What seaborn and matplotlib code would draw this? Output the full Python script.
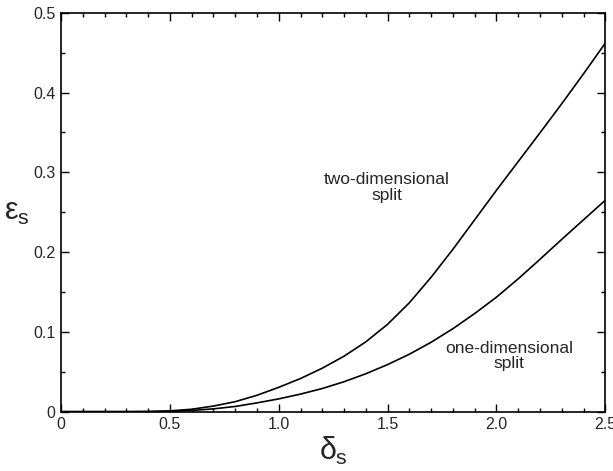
import matplotlib
matplotlib.use("Agg")
import matplotlib.pyplot as plt
import numpy as np
import pandas as pd
import seaborn as sns
from matplotlib.ticker import MultipleLocator, FuncFormatter

# values
DELTA_S = [0.0, 0.1, 0.2, 0.3, 0.4, 0.5, 0.6, 0.7, 0.8, 0.9, 1.0, 1.1, 1.2,
           1.3, 1.4, 1.5, 1.6, 1.7, 1.8, 1.9, 2.0, 2.1, 2.2, 2.3, 2.4, 2.5]
EPS_TWO_DIM = [0.0, 0.0, 0.0, 0.0, 0.0002, 0.001, 0.003, 0.007, 0.0125, 0.0205,
               0.0305, 0.0415, 0.0545, 0.0695, 0.0875, 0.1095, 0.1365, 0.1685,
               0.2035, 0.2405, 0.2775, 0.3135, 0.3495, 0.386, 0.4235, 0.462]
EPS_ONE_DIM = [0.0, 0.0, 0.0, 0.0, 0.0, 0.0004, 0.0015, 0.0035, 0.0065, 0.011,
               0.016, 0.022, 0.029, 0.0375, 0.0475, 0.059, 0.072, 0.087, 0.104,
               0.123, 0.1435, 0.1665, 0.191, 0.216, 0.2405, 0.265]
SPLIT_NAMES = ["two-dimensional", "one-dimensional"]

df = pd.concat([
    pd.DataFrame({"delta": DELTA_S, "eps": EPS_TWO_DIM, "split": SPLIT_NAMES[0]}),
    pd.DataFrame({"delta": DELTA_S, "eps": EPS_ONE_DIM, "split": SPLIT_NAMES[1]}),
])

sns.set_style("ticks")
plt.rcParams["font.family"] = ["Liberation Sans", "DejaVu Sans"]
plt.rcParams["mathtext.fontset"] = "custom"
plt.rcParams["mathtext.rm"] = "Liberation Sans"
plt.rcParams["mathtext.it"] = "Liberation Sans"
plt.rcParams["mathtext.bf"] = "Liberation Sans:bold"

fig = plt.figure(figsize=(6.13, 4.71), dpi=100)
ax = fig.add_axes([0.0995, 0.126, 0.888, 0.847])

sns.lineplot(
    data=df, x="delta", y="eps", hue="split",
    palette={SPLIT_NAMES[0]: "black", SPLIT_NAMES[1]: "black"},
    linewidth=1.2, legend=False, ax=ax,
)

ax.set_xlim(0, 2.5)
ax.set_ylim(0, 0.5)

ax.xaxis.set_major_locator(MultipleLocator(0.5))
ax.xaxis.set_minor_locator(MultipleLocator(0.1))
ax.yaxis.set_major_locator(MultipleLocator(0.1))
ax.yaxis.set_minor_locator(MultipleLocator(0.05))

fmt = FuncFormatter(lambda v, p: "0" if abs(v) < 1e-9 else f"{v:.1f}")
ax.xaxis.set_major_formatter(fmt)
ax.yaxis.set_major_formatter(fmt)

ax.tick_params(which="both", direction="in", top=True, right=True, color="black", width=1.0)
ax.tick_params(which="major", length=6, labelsize=11.5, pad=4)
ax.tick_params(which="minor", length=3)
for s in ax.spines.values():
    s.set_visible(True)
    s.set_color("black")
    s.set_linewidth(1.2)

ax.set_xlabel(r"$\delta_{\rm s}$", fontsize=22, labelpad=2)
ax.set_ylabel(r"$\varepsilon_{\rm s}$", fontsize=22, rotation=0, labelpad=12, va="center")

ax.text(1.498, 0.281, "two-dimensional\nsplit", ha="center", va="center",
        fontsize=12.5, linespacing=1.05)
ax.text(2.059, 0.0696, "one-dimensional\nsplit", ha="center", va="center",
        fontsize=12.5, linespacing=1.05)

fig.savefig("out.png", dpi=100)
